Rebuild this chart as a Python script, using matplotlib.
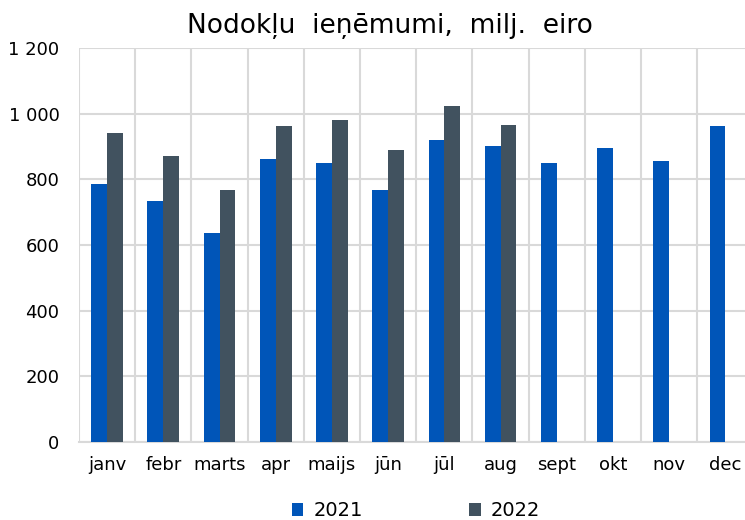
import numpy as np
import matplotlib.pyplot as plt
from matplotlib.ticker import FuncFormatter, MultipleLocator

months = ['janv', 'febr', 'marts', 'apr', 'maijs', 'jūn', 'jūl', 'aug',
          'sept', 'okt', 'nov', 'dec']
v2021 = [785, 735, 636, 863, 851, 767, 921, 902, 851, 895, 857, 961]
v2022 = [941, 870, 766, 961, 980, 889, 1024, 967, np.nan, np.nan, np.nan, np.nan]

blue = '#0055b8'
slate = '#41525f'
grid = '#d9d9d9'

fig = plt.figure(figsize=(7.45, 5.2), dpi=100)
ax = fig.add_axes([79 / 745, 78 / 520, (753.5 - 79) / 745, (442 - 48) / 520])

x = np.arange(len(months))
w = 0.282
ax.bar(x - w / 2, v2021, w, color=blue, label='2021', zorder=3)
ax.bar(x + w / 2, v2022, w, color=slate, label='2022', zorder=3)

ax.set_xlim(-0.5, len(months) - 0.5)
ax.set_ylim(0, 1200)
ax.yaxis.set_major_locator(MultipleLocator(200))
ax.yaxis.set_major_formatter(FuncFormatter(lambda v, p: f'{int(v):,}'.replace(',', ' ')))

# vertical grid lines on category borders
for b in np.arange(-0.5, len(months), 1.0):
    ax.axvline(b, color=grid, lw=1.5, zorder=1)
ax.yaxis.grid(True, color=grid, lw=1.5, zorder=1)
ax.set_axisbelow(True)

ax.set_xticks(x)
ax.set_xticklabels(months)
ax.tick_params(axis='both', length=0, labelsize=13, colors='black')
ax.tick_params(axis='x', pad=10)
ax.tick_params(axis='y', pad=14)
for s in ['top', 'right', 'left']:
    ax.spines[s].set_visible(False)
ax.spines['bottom'].set_color(grid)
ax.spines['bottom'].set_linewidth(1.5)

fig.text(390 / 745, 1 - 26 / 520, 'Nodokļu  ieņēmumi,  milj.  eiro', ha='center', va='center',
         fontsize=19, color='black')

fig.legend(loc='center', bbox_to_anchor=(416 / 745, 1 - 511 / 520), ncol=2, frameon=False,
           fontsize=14, handlelength=0.6, handleheight=0.6, columnspacing=5.5, handletextpad=0.5)

fig.savefig('out.png', dpi=100)
